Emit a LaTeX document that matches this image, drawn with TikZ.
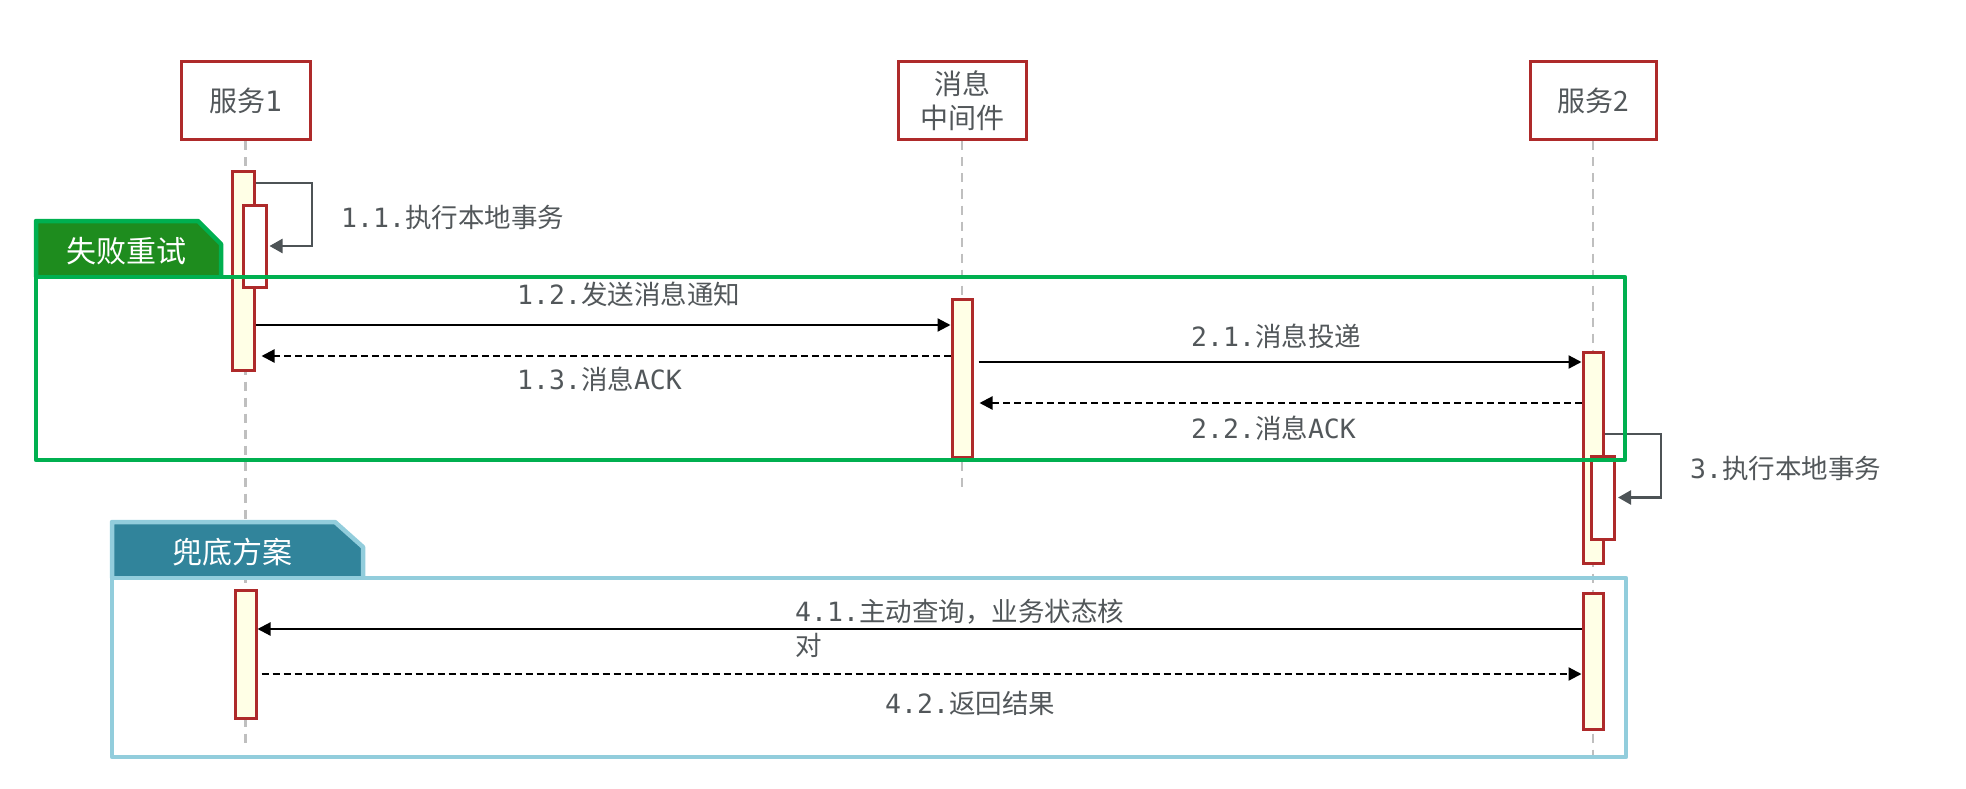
\documentclass[tikz,border=0pt]{standalone}
\usepackage{fontspec}
\setmainfont{Noto Sans CJK SC}
\newfontfamily\monof{DejaVu Sans Mono}
\usetikzlibrary{arrows.meta}
\definecolor{boxred}{HTML}{AE2A2A}
\definecolor{barfill}{HTML}{FFFFE6}
\definecolor{grline}{HTML}{00B050}
\definecolor{grfill}{HTML}{1E8C1E}
\definecolor{blline}{HTML}{92CDDC}
\definecolor{blfill}{HTML}{31849B}
\definecolor{txtgray}{HTML}{52575A}
\definecolor{selfgray}{HTML}{4D5356}
\definecolor{lifegray}{HTML}{BFBFBF}
\tikzset{
  actor/.style={draw=boxred, line width=3pt, fill=white, rectangle, inner sep=0pt,
    minimum height=78, text=txtgray, align=center, font=\fontsize{28}{34}\selectfont},
  actbar/.style={draw=boxred, line width=3pt, fill=barfill, rectangle, inner sep=0pt},
  innerbar/.style={draw=boxred, line width=3pt, fill=white, rectangle, inner sep=0pt},
  life/.style={draw=lifegray, line width=2.2pt, dash pattern=on 9pt off 7pt},
  msg/.style={draw=black, line width=2.2pt, -{Triangle[length=13pt,width=13pt]}},
  ret/.style={msg, dash pattern=on 7pt off 4pt},
  selfmsg/.style={draw=selfgray, line width=2.4pt, -{Triangle[length=13pt,width=14pt]}},
  lbl/.style={text=txtgray, inner sep=0pt, anchor=west, font=\fontsize{26.5}{34}\selectfont},
  tabtext/.style={text=white, inner sep=0pt, font=\fontsize{30}{34}\selectfont}
}
\begin{document}
\begin{tikzpicture}[x=1pt,y=-1pt]
\useasboundingbox (0,0) rectangle (1966,789);

% actors
\node[actor, minimum width=129] (s1) at (245.5,101) {服务{\monof 1}};
\node[actor, minimum width=128] (mw) at (962,101) {消息\\中间件};
\node[actor, minimum width=126] (s2) at (1593,101) {服务2};

% lifeline ends
\coordinate (s1end) at (245.5,748);
\coordinate (mwend) at (962,488);
\coordinate (s2end) at (1593,763);
\draw[life] (s1.south) -- (s1end);
\draw[life] (mw.south) -- (mwend);
\draw[life] (s2.south) -- (s2end);

% activation bars
\node[actbar, minimum width=22, minimum height=198] (s1a) at (243,271) {};
\node[innerbar, minimum width=23, minimum height=82] (s1b) at (254.5,246) {};
\node[actbar, minimum width=20, minimum height=158] (mwa) at (962,378) {};
\node[actbar, minimum width=20, minimum height=211] (s2a) at (1593,457.5) {};
\node[innerbar, minimum width=23, minimum height=83] (s2b) at (1603,497.5) {};
\node[actbar, minimum width=21, minimum height=128] (s1c) at (245.5,654) {};
\node[actbar, minimum width=20, minimum height=136] (s2c) at (1593,661) {};

% self messages
\draw[selfmsg, shorten >=2pt] (s1a.east |- 0,183) -- (312,183) |- (s1b.east);
\node[lbl] (l11) at (341,217) {{\monof 1.1.}执行本地事务};
\draw[selfmsg, shorten >=2pt] (s2a.east |- 0,434) -- (1661,434) |- (s2b.east);
\node[lbl] (l3) at (1690,468) {{\monof 3.}执行本地事务};

% messages
\draw[msg] (s1a.east |- 0,325) -- (mwa.west |- 0,325);
\node[lbl] (l12) at (517,294) {{\monof 1.2.}发送消息通知};
\draw[ret, shorten >=6pt] (mwa.west |- 0,356) -- (s1a.east |- 0,356);
\node[lbl] (l13) at (517,379) {{\monof 1.3.}消息{\monof ACK}};
\draw[msg, shorten <=5pt] (mwa.east |- 0,362) -- (s2a.west |- 0,362);
\node[lbl] (l21) at (1191,336) {{\monof 2.1.}消息投递};
\draw[ret, shorten >=6pt] (s2a.west |- 0,403) -- (mwa.east |- 0,403);
\node[lbl] (l22) at (1191,428) {{\monof 2.2.}消息{\monof ACK}};
\draw[msg] (s2c.west |- 0,629) -- (s1c.east |- 0,629);
\node[lbl, align=left] (l41) at (795,628) {{\monof 4.1.}主动查询，业务状态核\\对};
\draw[ret, shorten <=4pt] (s1c.east |- 0,674) -- (s2c.west |- 0,674);
\node[lbl] (l42) at (885,703) {{\monof 4.2.}返回结果};

% green frame
\draw[draw=grline, line width=4.5pt, fill=grfill, line join=round]
  (36,277) -- (36,221) -- (198,221) -- (221,244) -- (221,277);
\draw[draw=grline, line width=4.5pt, line join=round] (36,277) rectangle (1625,460);
\node[tabtext] (gtab) at (126,251) {失败重试};

% blue frame
\draw[draw=blline, line width=4.5pt, fill=blfill, line join=round]
  (112,578) -- (112,522) -- (335,522) -- (363,547) -- (363,578);
\draw[draw=blline, line width=4.5pt, line join=round] (112,578) rectangle (1626,757);
\node[tabtext] (btab) at (232,552) {兜底方案};
\end{tikzpicture}
\end{document}
